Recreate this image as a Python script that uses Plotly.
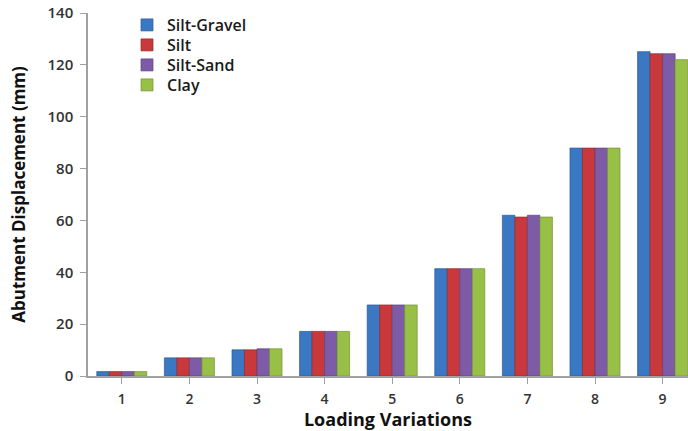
import plotly.graph_objects as go

categories = ["1", "2", "3", "4", "5", "6", "7", "8", "9"]
silt_gravel = [1.7, 7.0, 10.1, 17.2, 27.4, 41.4, 62.0, 87.9, 125.1]
silt = [1.7, 7.0, 10.1, 17.2, 27.4, 41.4, 61.3, 87.9, 124.3]
silt_sand = [1.7, 7.0, 10.5, 17.2, 27.4, 41.4, 62.0, 87.9, 124.3]
clay = [1.7, 7.0, 10.5, 17.2, 27.4, 41.4, 61.3, 87.9, 122.0]

series = [
    ("Silt-Gravel", silt_gravel, "#3a78c3", "#2a5a94"),
    ("Silt", silt, "#c9383a", "#962a2b"),
    ("Silt-Sand", silt_sand, "#7d5ba6", "#5c4380"),
    ("Clay", clay, "#98c046", "#72913a"),
]

legend_names = ["legend", "legend2", "legend3", "legend4"]
legend_py = [25, 45, 65, 85]  # pixel centres

xs = list(range(1, len(categories) + 1))
fig = go.Figure()
for (name, vals, col, edge), lg in zip(series, legend_names):
    fig.add_trace(go.Bar(x=xs, y=vals, name=name, legend=lg,
                         marker=dict(color=col, line=dict(color=edge, width=0.7))))

legend_common = dict(font=dict(size=16, color="#1a1a1a", weight=600), bgcolor="rgba(0,0,0,0)",
                     xanchor="left", yanchor="middle", x=0.065)
layout_legends = {}
for lg, py in zip(legend_names, legend_py):
    layout_legends[lg] = dict(legend_common, y=1 - (py - 13) / 363)

fig.update_layout(
    width=688, height=431,
    margin=dict(l=88, r=0, t=13, b=55),
    paper_bgcolor="white", plot_bgcolor="white",
    barmode="group", bargap=0.26, bargroupgap=0.0,
    font=dict(family="Open Sans, DejaVu Sans, sans-serif", color="#404040"),
    showlegend=True,
    **layout_legends,
)
fig.update_xaxes(
    range=[0.5, 0.5 + 600 / 67.6],
    tickmode="array", tickvals=xs, ticktext=categories,
    tickson="boundaries", ticks="outside", ticklen=6, tickcolor="#a0a0a0",
    showline=True, linecolor="#a0a0a0", linewidth=1.5,
    showgrid=False, zeroline=False, ticklabelstandoff=3,
    tickfont=dict(size=14, color="#333333", weight=600),
    title=dict(text="<b>Loading Variations</b>", font=dict(size=18, color="#111111"), standoff=11),
)
fig.update_yaxes(
    range=[0, 140], tickvals=[0, 20, 40, 60, 80, 100, 120, 140],
    ticks="outside", ticklen=6, tickcolor="#a0a0a0",
    showline=True, linecolor="#a0a0a0", linewidth=1.5,
    showgrid=False, zeroline=False, ticklabelstandoff=4,
    tickfont=dict(size=15, color="#333333", weight=600),
    title=dict(text="<b>Abutment Displacement (mm)</b>", font=dict(size=17, color="#111111"), standoff=18),
)

fig.write_html("out.html")
